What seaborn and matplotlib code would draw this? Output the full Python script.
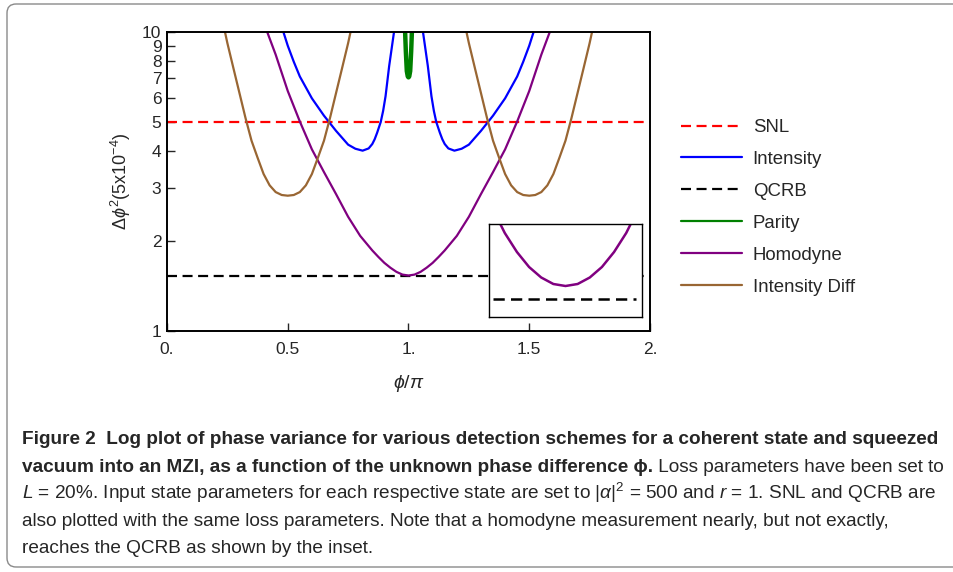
import pandas as pd
import matplotlib.pyplot as plt
import seaborn as sns
from matplotlib import font_manager
from matplotlib.patches import FancyBboxPatch
from matplotlib.text import Annotation

# values: phi in units of pi, variance in units of 5x10^-4
snl_phi = [0.0, 2.0]
snl_val = [5.0, 5.0]

qcrb_phi = [0.0, 2.0]
qcrb_val = [1.53, 1.53]

intensity_phi_left = [0.47, 0.482, 0.50, 0.525, 0.55, 0.60, 0.65, 0.70, 0.75, 0.78,
                      0.81, 0.835, 0.85, 0.86, 0.87, 0.885, 0.895, 0.905, 0.92, 0.94, 0.945]
intensity_val_left = [10.7, 10.0, 9.0, 7.95, 7.1, 6.0, 5.25, 4.67, 4.2, 4.07,
                      4.01, 4.08, 4.22, 4.38, 4.6, 5.0, 5.45, 6.1, 7.7, 10.0, 10.8]
intensity_phi_right = [1.055, 1.06, 1.08, 1.095, 1.105, 1.115, 1.13, 1.14, 1.15, 1.165,
                       1.19, 1.22, 1.25, 1.30, 1.35, 1.40, 1.45, 1.475, 1.50, 1.518, 1.53]
intensity_val_right = [10.8, 10.0, 7.7, 6.1, 5.45, 5.0, 4.6, 4.38, 4.22, 4.08,
                       4.01, 4.07, 4.2, 4.67, 5.25, 6.0, 7.1, 7.95, 9.0, 10.0, 10.7]

parity_phi = [0.985, 0.989, 0.993, 0.997, 1.000, 1.003, 1.007, 1.011, 1.015]
parity_val = [10.5, 8.6, 7.4, 7.1, 7.05, 7.1, 7.4, 8.6, 10.5]

homodyne_phi = [0.40, 0.415, 0.45, 0.50, 0.55, 0.60, 0.65, 0.70, 0.75, 0.80, 0.85,
                0.875, 0.90, 0.925, 0.95, 0.975, 1.00, 1.025, 1.05, 1.075, 1.10,
                1.125, 1.15, 1.20, 1.25, 1.30, 1.35, 1.40, 1.45, 1.50, 1.55, 1.585, 1.60]
homodyne_val = [10.8, 10.0, 8.4, 6.35, 5.02, 4.05, 3.40, 2.87, 2.41, 2.08, 1.86,
                1.77, 1.69, 1.628, 1.577, 1.544, 1.533, 1.544, 1.577, 1.628, 1.69,
                1.77, 1.86, 2.08, 2.41, 2.87, 3.40, 4.05, 5.02, 6.35, 8.4, 10.0, 10.8]

idiff_phi_left = [0.23, 0.25, 0.275, 0.30, 0.325, 0.35, 0.375, 0.40, 0.425, 0.45, 0.475, 0.50,
                  0.525, 0.55, 0.575, 0.60, 0.625, 0.65, 0.675, 0.70, 0.725, 0.75, 0.77]
idiff_val_left = [10.9, 9.18, 7.57, 6.25, 5.16, 4.33, 3.8, 3.35, 3.07, 2.915, 2.85, 2.835,
                  2.85, 2.915, 3.07, 3.35, 3.8, 4.33, 5.16, 6.25, 7.57, 9.18, 10.9]
idiff_phi_right = [1.23, 1.25, 1.275, 1.30, 1.325, 1.35, 1.375, 1.40, 1.425, 1.45, 1.475, 1.50,
                   1.525, 1.55, 1.575, 1.60, 1.625, 1.65, 1.675, 1.70, 1.725, 1.75, 1.77]
idiff_val_right = idiff_val_left

# inset: close-up of the homodyne minimum against the QCRB
inset_phi = [0.968, 0.975, 0.98, 0.985, 0.99, 0.995, 1.0, 1.005, 1.01, 1.015, 1.02, 1.025, 1.032]
inset_homodyne = [1.5500, 1.5432, 1.5394, 1.5364, 1.5343, 1.5330, 1.5326, 1.5330, 1.5343,
                  1.5364, 1.5394, 1.5432, 1.5500]
inset_qcrb_phi = [0.970, 1.029]
inset_qcrb_val = [1.53, 1.53]

x_ticks = [0, 0.5, 1, 1.5, 2]
x_tick_labels = ['0.', '0.5', '1.', '1.5', '2.']
y_ticks = [1, 2, 3, 4, 5, 6, 7, 8, 9, 10]
y_tick_labels = ['1', '2', '3', '4', '5', '6', '7', '8', '9', '10']

order = ['SNL', 'Intensity', 'QCRB', 'Parity', 'Homodyne', 'Intensity Diff']
colors = {'SNL': '#ff0000', 'Intensity': '#0000ff', 'QCRB': '#000000',
          'Parity': '#008000', 'Homodyne': '#800080', 'Intensity Diff': '#996633'}
dashes = {'SNL': (4.5, 2.5), 'Intensity': '', 'QCRB': (4.5, 2.5),
          'Parity': '', 'Homodyne': '', 'Intensity Diff': ''}


def part(name, branch, phi, val):
    return pd.DataFrame({'scheme': name, 'branch': branch, 'phi': phi, 'value': val})


df = pd.concat([
    part('SNL', 'a', snl_phi, snl_val),
    part('Intensity', 'a', intensity_phi_left, intensity_val_left),
    part('Intensity', 'b', intensity_phi_right, intensity_val_right),
    part('QCRB', 'a', qcrb_phi, qcrb_val),
    part('Parity', 'a', parity_phi, parity_val),
    part('Homodyne', 'a', homodyne_phi, homodyne_val),
    part('Intensity Diff', 'a', idiff_phi_left, idiff_val_left),
    part('Intensity Diff', 'b', idiff_phi_right, idiff_val_right),
], ignore_index=True)

inset_df = pd.concat([
    part('Homodyne', 'a', inset_phi, inset_homodyne),
    part('QCRB', 'a', inset_qcrb_phi, inset_qcrb_val),
], ignore_index=True)

sns.set_style('ticks')
names = {f.name for f in font_manager.fontManager.ttflist}
plt.rcParams['font.family'] = ['Liberation Sans', 'DejaVu Sans']
plt.rcParams['mathtext.fontset'] = 'custom'
plt.rcParams['mathtext.rm'] = 'Liberation Sans'
plt.rcParams['mathtext.it'] = 'Liberation Sans:italic'
plt.rcParams['mathtext.bf'] = 'Liberation Sans:bold'
cap_family = 'Liberation Sans Narrow' if 'Liberation Sans Narrow' in names else 'Liberation Sans'

fig = plt.figure(figsize=(9.54, 5.72), dpi=100)
ax = fig.add_axes([167 / 954, 1 - 331 / 572, 483 / 954, 299 / 572])

sns.lineplot(data=df, x='phi', y='value', hue='scheme', style='scheme', units='branch',
             estimator=None, sort=False, hue_order=order, style_order=order,
             palette=colors, dashes=dashes, linewidth=1.6, ax=ax)
# the parity dip is drawn heavier, as in the original
sns.lineplot(x=parity_phi, y=parity_val, color=colors['Parity'], linewidth=3.2,
             estimator=None, sort=False, legend=False, ax=ax)

ax.set_yscale('log')
ax.set_xlim(0, 2)
ax.set_ylim(1, 10)
ax.set_xticks(x_ticks)
ax.set_xticklabels(x_tick_labels)
ax.set_yticks(y_ticks)
ax.set_yticklabels(y_tick_labels)
ax.minorticks_off()
ax.tick_params(direction='in', length=6, width=1, labelsize=12.5, top=False, right=False)
ax.tick_params(axis='x', pad=8)
ax.tick_params(axis='y', pad=4)
for s in ax.spines.values():
    s.set_linewidth(1.4)
    s.set_color('black')
ax.set_xlabel(r'$\phi/\pi$', fontsize=14)
ax.set_ylabel(r'$\Delta\phi^2$(5x10$^{-4}$)', fontsize=13)
ax.xaxis.set_label_coords(0.5, -0.14)
ax.yaxis.set_label_coords(-0.071, 0.5)

handles, labels = ax.get_legend_handles_labels()
for h in handles:
    h.set_linewidth(1.6)
ax.legend(handles, labels, loc='upper left', bbox_to_anchor=(681 / 954, 1 - 119 / 572),
          bbox_transform=fig.transFigure, frameon=False, fontsize=13.4,
          handlelength=3.3, handletextpad=0.55, labelspacing=0.8,
          borderpad=0, borderaxespad=0)

# inset
axin = fig.add_axes([489 / 954, 1 - 317 / 572, 153 / 954, 93 / 572])
sns.lineplot(data=inset_df, x='phi', y='value', hue='scheme', style='scheme',
             estimator=None, sort=False, hue_order=['Homodyne', 'QCRB'],
             style_order=['Homodyne', 'QCRB'], palette=colors, dashes=dashes,
             linewidth=1.8, legend=False, ax=axin)
axin.set_xlim(0.9685, 1.0315)
axin.set_ylim(1.5264, 1.5450)
axin.set_xticks([])
axin.set_yticks([])
axin.set_xlabel('')
axin.set_ylabel('')
axin.set_facecolor('white')
for s in axin.spines.values():
    s.set_linewidth(1.0)
    s.set_color('black')

# caption panel, open on the right like the cropped original
fig.add_artist(FancyBboxPatch((7 / 954, 5 / 572), 1.2, 563 / 572,
                              boxstyle='round,pad=0,rounding_size=0.0095',
                              mutation_aspect=954 / 572, transform=fig.transFigure,
                              facecolor='none', edgecolor='#8a8a8a', linewidth=1.0))

cap_lines = [
    ('Figure 2  Log plot of phase variance for various detection schemes for a coherent state and squeezed', 'bold'),
    ('vacuum into an MZI, as a function of the unknown phase difference ϕ.', 'bold'),
    (r'$L$ = 20%. Input state parameters for each respective state are set to $|\alpha|^2$ = 500 and $r$ = 1. SNL and QCRB are', 'normal'),
    ('also plotted with the same loss parameters. Note that a homodyne measurement nearly, but not exactly,', 'normal'),
    ('reaches the QCRB as shown by the inset.', 'normal'),
]
baselines = [444, 471.5, 499, 526, 553]
texts = []
for (txt, weight), yb in zip(cap_lines, baselines):
    t = fig.text(22 / 954, 1 - yb / 572, txt, fontsize=13, fontweight=weight, va='baseline',
                 ha='left', family=[cap_family, 'DejaVu Sans'])
    texts.append(t)
tail = Annotation(' Loss parameters have been set to', xy=(1, 0), xycoords=texts[1],
                  va='bottom', ha='left', fontsize=13, family=[cap_family, 'DejaVu Sans'])
fig.add_artist(tail)
texts.append(tail)

fig.canvas.draw()
w = texts[0].get_window_extent(fig.canvas.get_renderer()).width
scale = 918 / w
for t in texts:
    t.set_fontsize(t.get_fontsize() * scale)

fig.savefig('out.png', dpi=100)
